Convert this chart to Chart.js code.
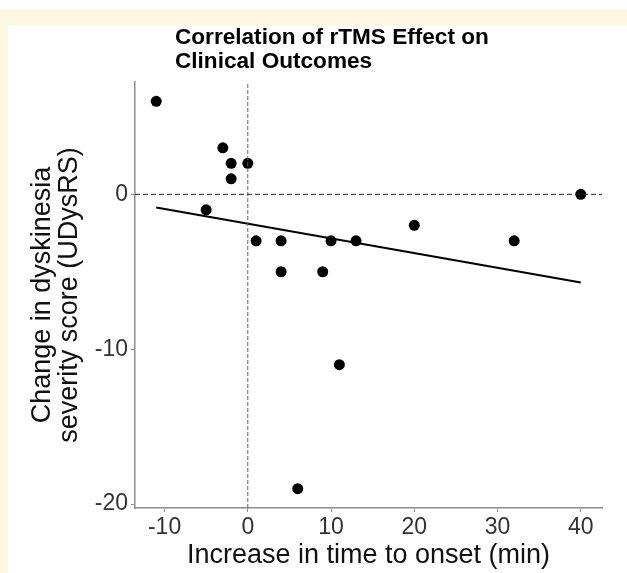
<!DOCTYPE html>
<html>
<head>
<meta charset="utf-8">
<script src="https://cdn.jsdelivr.net/npm/chart.js@4.4.1/dist/chart.umd.min.js"></script>
<style>
  html, body { margin: 0; padding: 0; background: #fff; }
  #frame { position: absolute; left: 0; top: 9px; width: 627px; height: 564px; background: #fef8e2; }
  #panel { position: absolute; left: 8px; top: 16px; width: 619px; height: 548px; background: #fff; }
  #chart { display: block; }
</style>
</head>
<body>
<div id="frame">
  <div id="panel"><canvas id="chart" width="619" height="548"></canvas></div>
</div>
<script>
// values
var onsetGain = [-11, -3, -2, -2, 0, -5, 1, 4, 4, 9, 10, 13, 11, 6, 20, 32, 40];
var udysrsChange = [6, 3, 2, 1, 2, -1, -3, -3, -5, -5, -3, -3, -11, -19, -2, -3, 0];
var fitX = [-11, 40];
var fitY = [-0.85, -5.7];
var xTicks = [-10, 0, 10, 20, 30, 40];
var yTicks = [-20, -10, 0];
var xLimits = [-13.55, 42.55];
var yLimits = [-20.25, 7.25];
var titleLines = ['Correlation of rTMS Effect on', 'Clinical Outcomes'];
var xTitle = 'Increase in time to onset (min)';
var yTitle = ['Change in dyskinesia', 'severity score (UDysRS)'];

var FONT = "'Liberation Sans', Arial, Helvetica, sans-serif";
var AXIS_GREY = '#8c8c8c';

var points = [];
for (var i = 0; i < onsetGain.length; i++) {
    points.push({x: onsetGain[i], y: udysrsChange[i]});
}

var titlePlugin = {
    id: 'plotTitle',
    afterDraw: function (chart) {
        var ctx = chart.ctx;
        ctx.save();
        ctx.fillStyle = '#000';
        ctx.font = 'bold 22.6px ' + FONT;
        ctx.textBaseline = 'alphabetic';
        ctx.textAlign = 'left';
        ctx.fillText(titleLines[0], 167, 19);
        ctx.fillText(titleLines[1], 167, 43);
        ctx.restore();
    }
};

var config = {
    type: 'scatter',
    data: {
        datasets: [
            {
                label: 'zero line',
                data: [{x: xLimits[0], y: 0}, {x: xLimits[1], y: 0}],
                showLine: true,
                borderColor: '#222',
                borderWidth: 1,
                borderDash: [5, 3],
                pointRadius: 0
            }, {
                label: 'onset zero',
                data: [{x: 0, y: yLimits[0]}, {x: 0, y: yLimits[1]}],
                showLine: true,
                borderColor: '#666',
                borderWidth: 1,
                borderDash: [4, 2],
                pointRadius: 0
            }, {
                label: 'fit',
                data: [{x: fitX[0], y: fitY[0]}, {x: fitX[1], y: fitY[1]}],
                showLine: true,
                borderColor: '#000',
                borderWidth: 2,
                pointRadius: 0
            }, {
                label: 'patients',
                data: points,
                backgroundColor: '#000',
                borderColor: '#000',
                pointRadius: 5.5,
                borderWidth: 0
            }]
    },
    options: {
        responsive: false,
        animation: false,
        layout: {
            padding: {top: 57, right: 25, bottom: 0, left: 0}
        },
        plugins: {
            legend: {display: false},
            title: {display: false},
            tooltip: {enabled: false}
        },
        scales: {
            x: {
                type: 'linear',
                min: xLimits[0],
                max: xLimits[1],
                afterBuildTicks: function (axis) {
                    axis.ticks = xTicks.map(function (v) { return {value: v}; });
                },
                afterFit: function (axis) { axis.height = 65; },
                grid: {display: true, drawOnChartArea: false, drawTicks: true, tickLength: 4, color: AXIS_GREY, lineWidth: 1},
                border: {display: true, color: AXIS_GREY, width: 1.5},
                ticks: {color: '#333', font: {family: FONT, size: 23}, padding: 2, maxRotation: 0},
                title: {display: true, text: xTitle, color: '#111', font: {family: FONT, size: 27, lineHeight: 1.0}, padding: {top: 0, bottom: 3.5}}
            },
            y: {
                type: 'linear',
                min: yLimits[0],
                max: yLimits[1],
                afterBuildTicks: function (axis) {
                    axis.ticks = yTicks.map(function (v) { return {value: v}; });
                },
                afterFit: function (axis) { axis.width = 127; },
                grid: {display: true, drawOnChartArea: false, drawTicks: true, tickLength: 4, color: AXIS_GREY, lineWidth: 1},
                border: {display: true, color: AXIS_GREY, width: 1.5},
                ticks: {color: '#333', font: {family: FONT, size: 23}, padding: 3},
                title: {display: true, text: yTitle, color: '#111', font: {family: FONT, size: 27, lineHeight: 1.0}, padding: {top: 21.5, bottom: 0}}
            }
        }
    },
    plugins: [titlePlugin]
};

var myChart = new Chart(document.getElementById('chart').getContext('2d'), config);
</script>
</body>
</html>
